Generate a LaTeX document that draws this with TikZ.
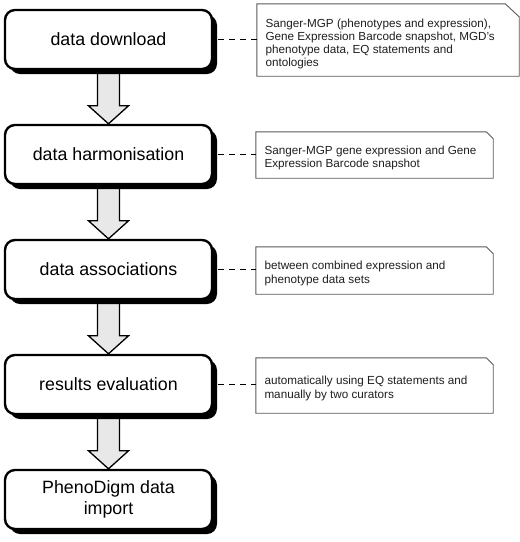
\documentclass[tikz,border=0pt]{standalone}
\usepackage{fontspec}
\setmainfont{Liberation Sans}
\usetikzlibrary{calc,shadows,backgrounds}
\begin{document}
\begin{tikzpicture}[x=1pt,y=1pt,
  stepbox/.style={draw=black, line width=2.4pt, fill=white, rounded corners=10pt,
    minimum width=207pt, minimum height=59pt, align=center, inner sep=0pt,
    font=\fontsize{17.8}{21}\selectfont,
    drop shadow={shadow xshift=5pt, shadow yshift=-5pt, fill=black, opacity=1}},
  notearea/.style={draw=none, minimum width=#1, inner sep=0pt},
  notetext/.style={anchor=west, align=left, inner sep=0pt, text=black!88,
    font=\fontsize{11.7}{13.2}\selectfont},
  notebox/.style={draw=black!65, line width=0.9pt, fill=white},
  link/.style={draw=black, line width=1.8pt, dash pattern=on 6pt off 5pt},
  bigarrow/.style={draw=black, line width=1.3pt, fill=black!9, line join=miter}
]
\useasboundingbox (0,0) rectangle (520,-542);

% main steps
\node[stepbox] (s1) at (108.5,-39.5) {data download};
\node[stepbox] (s2) at (108.5,-154.5) {data harmonisation};
\node[stepbox] (s3) at (108.5,-269.5) {data associations};
\node[stepbox] (s4) at (108.5,-384.5) {results evaluation};
\node[stepbox] (s5) at (108.5,-499.5) {PhenoDigm data\\import};

% note frames
\node[minimum width=262pt, minimum height=72pt, inner sep=0pt] (n1) at (388,-40) {};
\node[minimum width=237pt, minimum height=46pt, inner sep=0pt] (n2) at (374.5,-155) {};
\node[minimum width=237pt, minimum height=47pt, inner sep=0pt] (n3) at (374.5,-270.5) {};
\node[minimum width=237pt, minimum height=55pt, inner sep=0pt] (n4) at (374.5,-385.5) {};

\draw[notebox] (n1.north west) -- ([xshift=-14pt]n1.north east) -- ([yshift=-13pt]n1.north east) -- (n1.south east) -- (n1.south west) -- cycle;
\draw[notebox] (n2.north west) -- ([xshift=-7pt]n2.north east) -- ([yshift=-7pt]n2.north east) -- (n2.south east) -- (n2.south west) -- cycle;
\draw[notebox] (n3.north west) -- ([xshift=-7pt]n3.north east) -- ([yshift=-7pt]n3.north east) -- (n3.south east) -- (n3.south west) -- cycle;
\draw[notebox] (n4.north west) -- ([xshift=-7pt]n4.north east) -- ([yshift=-7pt]n4.north east) -- (n4.south east) -- (n4.south west) -- cycle;

\node[notetext] (t1) at ([xshift=8.5pt,yshift=-4pt]n1.west) {Sanger-MGP (phenotypes and expression),\\Gene Expression Barcode snapshot, MGD's\\phenotype data, EQ statements and\\ontologies};
\node[notetext] (t2) at ([xshift=8.5pt,yshift=-3pt]n2.west) {Sanger-MGP gene expression and Gene\\Expression Barcode snapshot};
\node[notetext] (t3) at ([xshift=8.5pt,yshift=-3pt]n3.west) {between combined expression and\\phenotype data sets};
\node[notetext] (t4) at ([xshift=8.5pt,yshift=-3pt]n4.west) {automatically using EQ statements and\\manually by two curators};

% dashed links
\draw[link] ([xshift=5pt]s1.east) -- (s1.east -| n1.west);
\draw[link] ([xshift=5pt]s2.east) -- (s2.east -| n2.west);
\draw[link] ([xshift=5pt]s3.east) -- (s3.east -| n3.west);
\draw[link] ([xshift=5pt]s4.east) -- (s4.east -| n4.west);

% block arrows
\begin{pgfonlayer}{background}
\foreach \a/\b in {s1/s2, s2/s3, s3/s4, s4/s5}{
  \draw[bigarrow] ($(\a.south)+(-11,0)$) -- ($(\b.north)+(-11,18)$) -- ($(\b.north)+(-20,18)$)
    -- (\b.north) -- ($(\b.north)+(20,18)$) -- ($(\b.north)+(11,18)$) -- ($(\a.south)+(11,0)$) -- cycle;
}
\end{pgfonlayer}
\end{tikzpicture}
\end{document}
